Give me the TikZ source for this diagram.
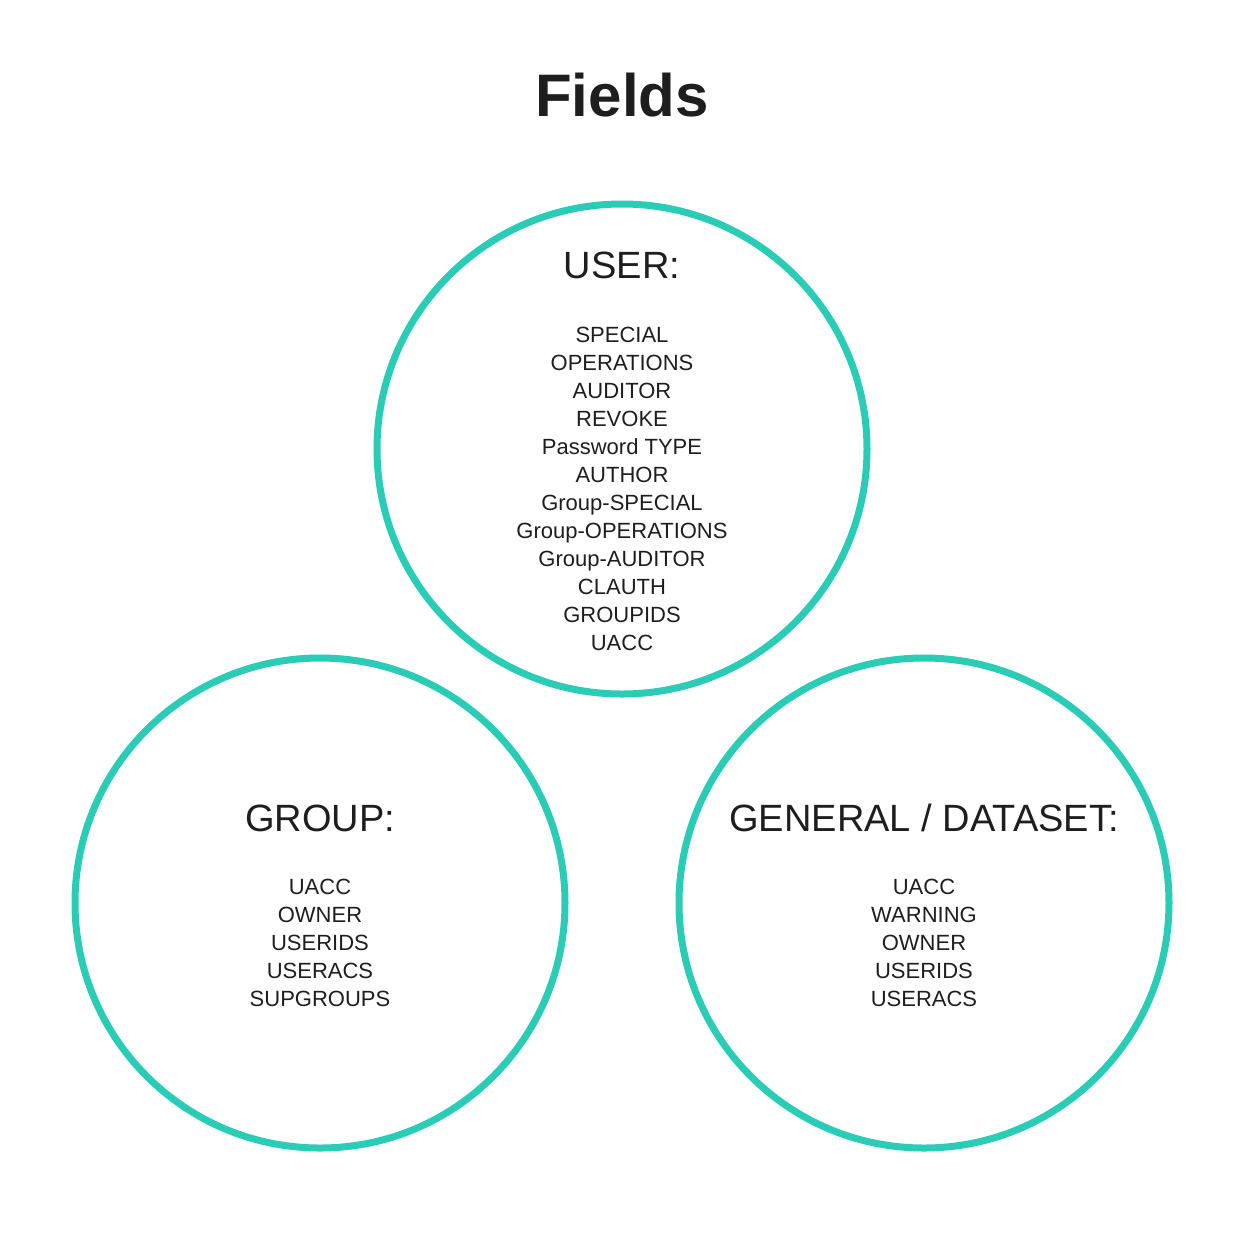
\documentclass[tikz,border=0pt]{standalone}
\usepackage{fontspec}
\setmainfont{Liberation Sans}
\definecolor{teal}{HTML}{2ACCB5}
\definecolor{ink}{HTML}{1E1E1E}
\begin{document}
\begin{tikzpicture}[x=0.5pt,y=-0.5pt,
  ring/.style={draw=teal,line width=3.5pt},
  head/.style={text=ink,font=\fontsize{19}{22}\selectfont,inner sep=0pt},
  items/.style={text=ink,font=\fontsize{11}{14}\selectfont,align=center,inner sep=0pt}]
\useasboundingbox (0,0) rectangle (1244,1244);
\node[text=ink,font=\fontsize{30}{36}\selectfont\bfseries] (title) at (622,95) {Fields};
\node[ring,circle,minimum size=245pt,inner sep=0pt] (user) at (622,449) {};
\node[ring,circle,minimum size=245pt,inner sep=0pt] (group) at (320,903) {};
\node[ring,circle,minimum size=245pt,inner sep=0pt] (general) at (924,903) {};
\node[head] (userh) at (622,265) {USER:};
\node[items] (useri) at (622,489) {SPECIAL\\OPERATIONS\\AUDITOR\\REVOKE\\Password TYPE\\AUTHOR\\Group-SPECIAL\\Group-OPERATIONS\\Group-AUDITOR\\CLAUTH\\GROUPIDS\\UACC};
\node[head] (grouph) at (320,818) {GROUP:};
\node[items] (groupi) at (320,943) {UACC\\OWNER\\USERIDS\\USERACS\\SUPGROUPS};
\node[head] (generalh) at (924,818) {GENERAL / DATASET:};
\node[items] (generali) at (924,943) {UACC\\WARNING\\OWNER\\USERIDS\\USERACS};
\end{tikzpicture}
\end{document}
